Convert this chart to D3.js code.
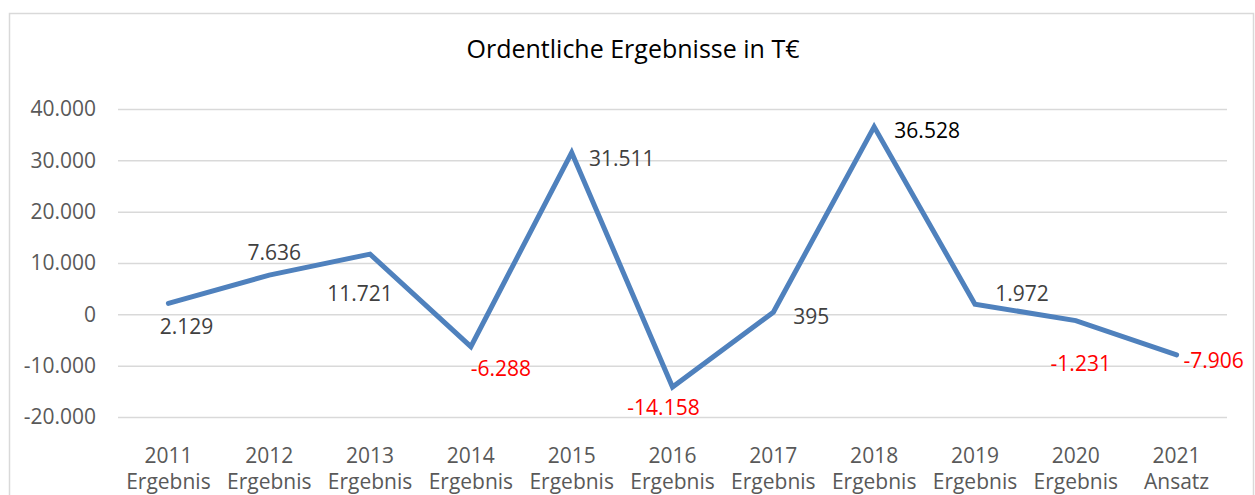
<!DOCTYPE html>
<html>
<head>
<meta charset="utf-8">
<script src="https://cdn.jsdelivr.net/npm/d3@7"></script>
<style>
  html, body { margin: 0; padding: 0; background: #fff; }
  svg { display: block; }
  text { font-family: "Open Sans", "Liberation Sans", sans-serif; }
</style>
</head>
<body>
<svg id="chart" width="1255" height="495"></svg>
<script>
// ---- data ----
const years = ["2011", "2012", "2013", "2014", "2015", "2016", "2017", "2018", "2019", "2020", "2021"];
const kinds = ["Ergebnis", "Ergebnis", "Ergebnis", "Ergebnis", "Ergebnis", "Ergebnis", "Ergebnis", "Ergebnis", "Ergebnis", "Ergebnis", "Ansatz"];
const values = [2129, 7636, 11721, -6288, 31511, -14158, 395, 36528, 1972, -1231, -7906];
const yTicks = [-20000, -10000, 0, 10000, 20000, 30000, 40000];
const title = "Ordentliche Ergebnisse in T€";

// ---- label placement (pixel offsets from the point, text centred) ----
const labelOffsets = [
  [18, 23], [5, -23], [-10, 39], [30, 21], [50, 5], [-9, 20],
  [38, 4], [53, 3], [47, -11], [5, 42], [37, 5]
];

const svg = d3.select("#chart");
const plot = { left: 118, right: 1227, top: 109, bottom: 417 };

// chart border
svg.append("rect")
  .attr("x", 9.5).attr("y", 13.5)
  .attr("width", 1244).attr("height", 520)
  .attr("fill", "#fff").attr("stroke", "#d9d9d9").attr("stroke-width", 1.5);

const x = d3.scaleBand().domain(years).range([plot.left, plot.right]).padding(0);
const y = d3.scaleLinear().domain([-20000, 40000]).range([plot.bottom, plot.top]);

const fmt = v => d3.format(",")(v).replace(/,/g, ".").replace(/\u2212/g, "-");

// gridlines + y labels
const yAxis = d3.axisLeft(y).tickValues(yTicks)
  .tickSize(-(plot.right - plot.left))
  .tickPadding(22)
  .tickFormat(fmt);
const gy = svg.append("g").attr("transform", `translate(${plot.left},0)`).call(yAxis);
gy.select(".domain").remove();
gy.selectAll(".tick line").attr("stroke", "#d9d9d9").attr("stroke-width", 1.5);
gy.selectAll(".tick text")
  .attr("fill", "#595959").attr("font-size", 21)
  .attr("font-family", "'Open Sans', sans-serif");

// x labels
const xAxis = d3.axisBottom(x).tickSize(0).tickPadding(0);
const gx = svg.append("g").attr("transform", `translate(0,${plot.bottom})`).call(xAxis);
gx.select(".domain").remove();
gx.selectAll(".tick text").remove();
gx.selectAll(".tick").each(function(d, i) {
  const t = d3.select(this).append("text")
    .attr("text-anchor", "middle")
    .attr("fill", "#595959")
    .attr("font-size", 21)
    .attr("font-family", "'Open Sans', sans-serif");
  t.append("tspan").attr("x", 0).attr("y", 38).attr("dominant-baseline", "central").text(d);
  t.append("tspan").attr("x", 0).attr("y", 64).attr("dominant-baseline", "central").text(kinds[i]);
});

// line
const cx = (d, i) => x(years[i]) + x.bandwidth() / 2;
const line = d3.line().x((d, i) => cx(d, i)).y(d => y(d));
svg.append("path")
  .datum(values)
  .attr("d", line)
  .attr("fill", "none")
  .attr("stroke", "#4f81bd")
  .attr("stroke-width", 5)
  .attr("stroke-linejoin", "miter")
  .attr("stroke-linecap", "round");

// data labels
svg.append("g").selectAll("text")
  .data(values)
  .join("text")
  .attr("x", (d, i) => cx(d, i) + labelOffsets[i][0])
  .attr("y", (d, i) => y(d) + labelOffsets[i][1])
  .attr("text-anchor", "middle")
  .attr("dominant-baseline", "central")
  .attr("font-size", 21)
  .attr("fill", (d, i) => d < 0 ? "#ff0000" : (i === 7 ? "#000000" : "#404040"))
  .text(d => fmt(d));

// title
svg.append("text")
  .attr("x", 633).attr("y", 48)
  .attr("text-anchor", "middle")
  .attr("dominant-baseline", "central")
  .attr("font-size", 25)
  .attr("fill", "#000")
  .text(title);
</script>
</body>
</html>
